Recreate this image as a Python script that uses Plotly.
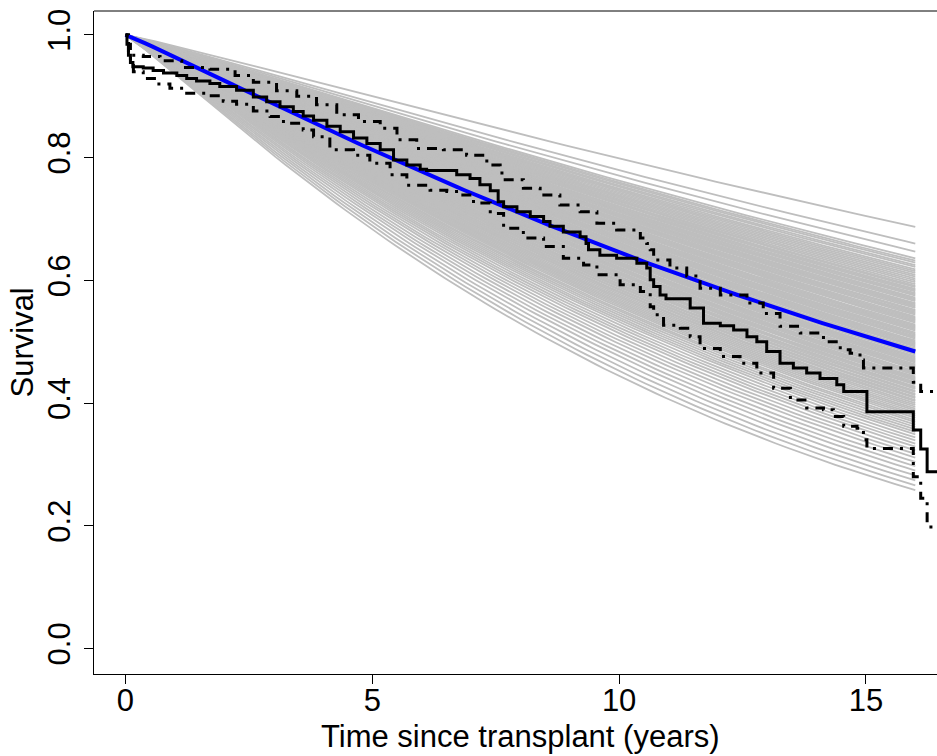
import numpy as np
import plotly.graph_objects as go

# ---------------- data ----------------
# Kaplan-Meier estimate (step function)
km_t = [0, 0.03, 0.06, 0.10, 0.15, 0.36, 0.56, 0.77, 1.04, 1.24, 1.44, 1.71, 1.91, 2.25, 2.59, 2.86,
        3.13, 3.40, 3.60, 3.81, 4.08, 4.35, 4.62, 4.89, 5.16, 5.43, 5.70, 5.97, 6.10, 6.71, 6.98, 7.18,
        7.39, 7.55, 7.66, 7.93, 8.20, 8.47, 8.60, 8.87, 9.21, 9.33, 9.38, 9.61, 9.95, 10.36, 10.56, 10.63,
        10.70, 10.83, 10.95, 11.44, 11.71, 12.05, 12.32, 12.59, 12.79, 12.99, 13.26, 13.53, 13.80, 14.07,
        14.41, 14.55, 15.02, 15.96, 16.11, 16.24, 16.44]
km_s = [1.0, 0.985, 0.967, 0.955, 0.948, 0.946, 0.942, 0.938, 0.934, 0.929, 0.925, 0.921, 0.916, 0.910, 0.899, 0.891,
        0.883, 0.875, 0.868, 0.861, 0.851, 0.842, 0.832, 0.823, 0.813, 0.796, 0.788, 0.781, 0.779, 0.772, 0.766, 0.756,
        0.746, 0.728, 0.720, 0.712, 0.704, 0.696, 0.688, 0.679, 0.671, 0.660, 0.650, 0.641, 0.636, 0.628, 0.620, 0.601,
        0.590, 0.576, 0.570, 0.555, 0.530, 0.526, 0.519, 0.508, 0.500, 0.484, 0.465, 0.457, 0.449, 0.440,
        0.430, 0.419, 0.386, 0.356, 0.325, 0.288, 0.288]

# Upper confidence limit
up_t = [0, 0.06, 0.10, 0.13, 0.36, 0.70, 1.14, 1.71, 2.22, 2.59, 3.06, 3.47, 3.87, 4.28, 4.72, 5.16,
        5.50, 5.90, 6.44, 6.91, 7.32, 7.59, 7.66, 8.06, 8.40, 8.80, 9.21, 9.55, 9.95, 10.43, 10.56, 10.63,
        10.70, 11.03, 11.37, 11.64, 12.05, 12.59, 12.92, 13.26, 13.67, 14.14, 14.48, 14.68, 14.88, 14.95,
        15.96, 16.11, 16.44]
up_s = [1.0, 0.985, 0.975, 0.967, 0.965, 0.958, 0.947, 0.944, 0.934, 0.923, 0.909, 0.900, 0.886, 0.870, 0.859, 0.848,
        0.829, 0.815, 0.813, 0.804, 0.788, 0.775, 0.764, 0.750, 0.739, 0.723, 0.712, 0.693, 0.682, 0.669, 0.660, 0.650,
        0.633, 0.620, 0.607, 0.587, 0.576, 0.563, 0.546, 0.525, 0.514, 0.500, 0.487, 0.481, 0.470, 0.457,
        0.434, 0.419, 0.419]

# Lower confidence limit
lo_t = [0, 0.06, 0.10, 0.16, 0.36, 0.63, 0.90, 1.24, 1.65, 1.98, 2.25, 2.59, 2.93, 3.20, 3.60, 3.81,
        4.14, 4.62, 4.95, 5.36, 5.70, 6.17, 6.51, 6.78, 7.05, 7.39, 7.66, 8.06, 8.47, 8.87, 9.28, 9.55,
        10.02, 10.43, 10.63, 10.70, 10.90, 11.24, 11.44, 11.64, 12.05, 12.45, 12.79, 13.13, 13.47, 13.80,
        14.14, 14.34, 14.55, 14.82, 14.95, 15.02, 15.96, 16.11, 16.24, 16.44]
lo_s = [1.0, 0.965, 0.950, 0.940, 0.929, 0.920, 0.913, 0.905, 0.901, 0.892, 0.887, 0.876, 0.867, 0.856, 0.845, 0.834,
        0.813, 0.804, 0.791, 0.772, 0.755, 0.747, 0.745, 0.739, 0.726, 0.709, 0.685, 0.669, 0.655, 0.636, 0.625, 0.609,
        0.593, 0.582, 0.557, 0.544, 0.527, 0.522, 0.508, 0.489, 0.476, 0.465, 0.449, 0.424, 0.405, 0.392,
        0.389, 0.378, 0.362, 0.359, 0.340, 0.326, 0.280, 0.245, 0.198, 0.198]

# Fitted Weibull curve (blue): survival at end time and shape
blue_end_t = 16.0
blue_end_s = 0.484
blue_shape = 1.077

# Sampled Weibull curves (grey): survival reached at t = 16 for each curve, common shape
gray_end_t = 16.0
gray_shape = 1.09
gray_end_s = [
    0.687, 0.660, 0.647, 0.636, 0.632, 0.629, 0.625, 0.622, 0.618, 0.615, 0.612, 0.609, 0.606, 0.603, 0.600,
    0.597, 0.594, 0.591, 0.589, 0.586, 0.584, 0.582, 0.579, 0.577, 0.575, 0.572, 0.570, 0.568, 0.566, 0.563,
    0.561, 0.559, 0.557, 0.555, 0.552, 0.550, 0.548, 0.546, 0.544, 0.541, 0.539, 0.537, 0.535, 0.533, 0.531,
    0.528, 0.526, 0.524, 0.522, 0.520, 0.518, 0.515, 0.513, 0.511, 0.509, 0.507, 0.505, 0.502, 0.500, 0.498,
    0.496, 0.494, 0.492, 0.489, 0.487, 0.485, 0.483, 0.481, 0.479, 0.476, 0.474, 0.472, 0.470, 0.468, 0.466,
    0.463, 0.461, 0.459, 0.457, 0.455, 0.452, 0.450, 0.448, 0.446, 0.443, 0.441, 0.439, 0.437, 0.434, 0.432,
    0.430, 0.427, 0.425, 0.423, 0.420, 0.418, 0.415, 0.413, 0.410, 0.408, 0.405, 0.403, 0.400, 0.397, 0.394,
    0.391, 0.388, 0.385, 0.382, 0.379, 0.376, 0.372, 0.369, 0.365, 0.361, 0.357, 0.353, 0.349, 0.344, 0.339,
    0.334, 0.329, 0.323, 0.317, 0.311, 0.304, 0.297, 0.290, 0.282, 0.274, 0.266, 0.258]

x_ticks = [0, 5, 10, 15]
y_ticks = [0.0, 0.2, 0.4, 0.6, 0.8, 1.0]
x_title = "Time since transplant (years)"
y_title = "Survival"

# ---------------- figure ----------------
FONT = "Liberation Sans, Arial, Helvetica, sans-serif"
FS = 31
W, H = 937, 756
ML, MR, MT, MB = 94, 0, 11, 82
x_range = [-0.638, 16.44]
y_range = [-0.0416, 1.039]


def weibull(end_s, end_t, shape, t):
    return end_s ** ((t / end_t) ** shape)


tg = np.linspace(0, gray_end_t, 80)
gx, gy = [], []
for s_end in gray_end_s:
    gx.extend(list(tg) + [None])
    gy.extend(list(weibull(s_end, gray_end_t, gray_shape, tg)) + [None])

tb = np.linspace(0, blue_end_t, 120)
by = weibull(blue_end_s, blue_end_t, blue_shape, tb)

fig = go.Figure()
fig.add_trace(go.Scatter(x=gx, y=gy, mode="lines", line=dict(color="#BEBEBE", width=1.8),
                         hoverinfo="skip", showlegend=False))
fig.add_trace(go.Scatter(x=tb, y=by, mode="lines", line=dict(color="#0000FF", width=4),
                         showlegend=False))
dd = "3px,7px,10px,7px"
fig.add_trace(go.Scatter(x=up_t, y=up_s, mode="lines", line=dict(color="black", width=3, dash=dd, shape="hv"),
                         showlegend=False))
fig.add_trace(go.Scatter(x=lo_t, y=lo_s, mode="lines", line=dict(color="black", width=3, dash=dd, shape="hv"),
                         showlegend=False))
fig.add_trace(go.Scatter(x=km_t, y=km_s, mode="lines", line=dict(color="black", width=3, shape="hv"),
                         showlegend=False))

axis_common = dict(showgrid=False, zeroline=False, showline=True, linecolor="black", linewidth=1,
                   ticks="outside", ticklen=9, tickwidth=1, tickcolor="black",
                   tickfont=dict(family=FONT, size=FS, color="black"))
fig.update_xaxes(range=x_range, tickvals=x_ticks, ticktext=[str(v) for v in x_ticks],
                 ticklabelstandoff=-10, **axis_common)
fig.update_yaxes(range=y_range, tickvals=y_ticks, ticktext=[f"{v:.1f}" for v in y_ticks],
                 tickangle=-90, ticklabelstandoff=2, **axis_common)

# top border of the box (right side lies beyond the picture)
fig.add_shape(type="line", xref="paper", yref="paper", x0=0, x1=1, y0=1, y1=1,
              line=dict(color="black", width=1))

pw = W - ML - MR
ph = H - MT - MB
fig.add_annotation(text=x_title, xref="paper", yref="paper", x=(520.5 - ML) / pw, y=-(736 - (H - MB)) / ph,
                   xanchor="center", yanchor="middle", showarrow=False,
                   font=dict(family=FONT, size=FS, color="black"))
fig.add_annotation(text=y_title, xref="paper", yref="paper", x=(22 - ML) / pw, y=0.5,
                   xanchor="center", yanchor="middle", textangle=-90, showarrow=False,
                   font=dict(family=FONT, size=FS, color="black"))

fig.update_layout(width=W, height=H, margin=dict(l=ML, r=MR, t=MT, b=MB, pad=0),
                  plot_bgcolor="white", paper_bgcolor="white", showlegend=False,
                  font=dict(family=FONT, size=FS, color="black"))

fig.write_html("out.html")
